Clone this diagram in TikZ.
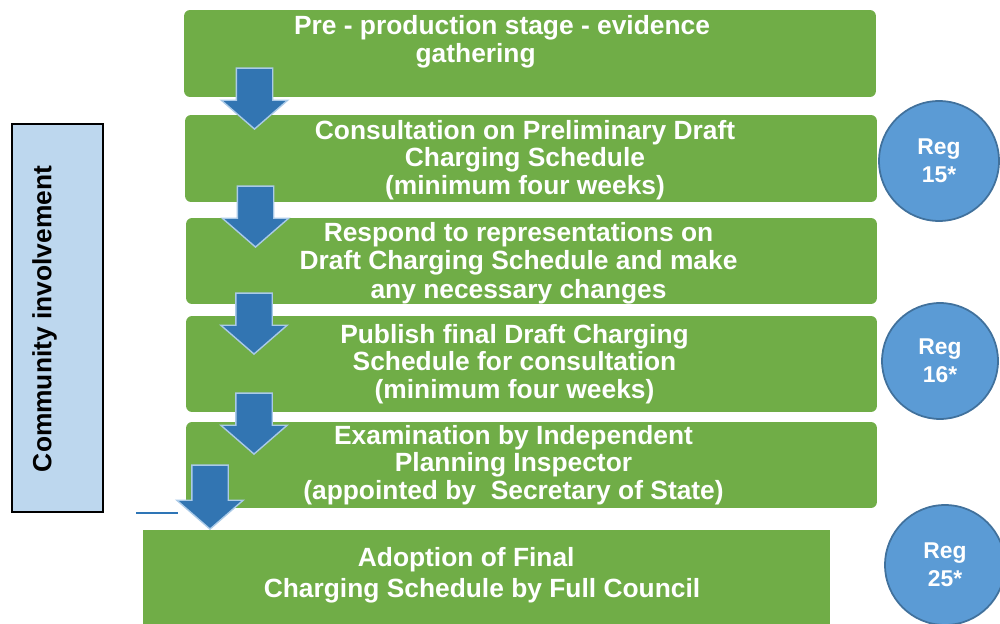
\documentclass[tikz,border=0pt]{standalone}
\usepackage{fontspec}
\setmainfont{Liberation Sans}
\usetikzlibrary{shapes.arrows,positioning}
\definecolor{StageGreen}{RGB}{112,173,71}
\definecolor{RegBlue}{RGB}{91,155,213}
\definecolor{RegEdge}{RGB}{65,113,156}
\definecolor{PaleBlue}{RGB}{189,215,238}
\definecolor{ArrowBlue}{RGB}{50,117,178}
\definecolor{ArrowEdge}{RGB}{170,202,232}
\definecolor{LineBlue}{RGB}{46,117,182}

\tikzset{
  stage/.style={fill=StageGreen, rounded corners=0.12cm, minimum width=13.84cm,
    minimum height=1.74cm, inner sep=0pt},
  stagetext/.style={text=white, align=center, inner sep=0pt,
    font=\bfseries\fontsize{15}{15.8}\selectfont},
  regcircle/.style={circle, fill=RegBlue, draw=RegEdge, line width=1pt,
    minimum size=2.4cm, inner sep=0pt, text=white, align=center,
    font=\bfseries\fontsize{13}{16}\selectfont},
  downarrow/.style={single arrow, shape border rotate=270, anchor=tip,
    fill=ArrowBlue, draw=ArrowEdge, line width=0.8pt, minimum width=1.3cm,
    minimum height=1.22cm, single arrow head extend=0.3cm,
    single arrow tip angle=98, inner sep=0.35cm}
}

\begin{document}
\begin{tikzpicture}[x=0.02cm, y=-0.02cm]
\useasboundingbox (0,0) rectangle (1000,624);
% Stage boxes
\node[stage] (pre) at (530,53.5) {};
\node[stage] (prelim) at (531,158.5) {};
\node[stage, minimum width=13.82cm, minimum height=1.72cm] (respond) at (531.5,261) {};
\node[stage, minimum width=13.82cm, minimum height=1.92cm] (publish) at (531.5,364) {};
\node[stage, minimum width=13.82cm, minimum height=1.72cm] (exam) at (531.5,465) {};
\node[stage, rounded corners=0pt, minimum width=13.74cm, minimum height=1.88cm] (adopt) at (486.5,577) {};

% Stage texts
\node[stagetext] (preText) at ([xshift=-0.56cm, yshift=0.24cm]pre.center) {Pre - production stage - evidence\\gathering\rule{30pt}{0pt}};
\node[stagetext] (prelimText) at ([xshift=-0.12cm, yshift=-0.03cm]prelim.center) {Consultation on Preliminary Draft\\Charging Schedule\\(minimum four weeks)};
\node[stagetext, font=\bfseries\fontsize{15}{16.3}\selectfont] (respondText) at ([xshift=-0.26cm, yshift=-0.04cm]respond.center) {Respond to representations on\\Draft Charging Schedule and make\\any necessary changes};
\node[stagetext] (publishText) at ([xshift=-0.34cm]publish.center) {Publish final Draft Charging\\Schedule for consultation\\(minimum four weeks)};
\node[stagetext] (examText) at ([xshift=-0.36cm]exam.center) {Examination by Independent\\Planning Inspector\\(appointed by\ \ Secretary of State)};
\node[stagetext, font=\bfseries\fontsize{15}{17.6}\selectfont] (adoptText) at ([xshift=-0.09cm, yshift=0.03cm]adopt.center) {Adoption of Final\rule{18pt}{0pt}\\Charging Schedule by Full Council};

% Community involvement bar
\node[draw=black, line width=1.2pt, fill=PaleBlue, rotate=90, minimum width=7.76cm,
  minimum height=1.82cm] (community) at (57.5,318) {};
\node[rotate=90, inner sep=0pt, font=\bfseries\fontsize{15}{15.5}\selectfont] (communityText) at ([xshift=-0.26cm, yshift=-0.02cm]community.center) {Community involvement};

% Down arrows (placed by their tips)
\node[downarrow] (arrA) at (254.5,130) {};
\node[downarrow] (arrB) at (255.5,248) {};
\node[downarrow] (arrC) at (254,355) {};
\node[downarrow] (arrD) at (254,455) {};
\node[downarrow, minimum width=1.28cm, minimum height=1.28cm] (arrE) at (210,530) {};

% short blue rule
\coordinate (ruleL) at (136,513);
\coordinate (ruleR) at (178,513);
\draw[LineBlue, line width=0.8pt] (ruleL) -- (ruleR);

% Regulation circles
\node[regcircle] (reg15) at (939,161) {Reg\\15*};
\node[regcircle, minimum size=2.32cm] (reg16) at (940,361) {Reg\\16*};
\node[regcircle] (reg25) at (945,565) {Reg\\25*};
\end{tikzpicture}
\end{document}
